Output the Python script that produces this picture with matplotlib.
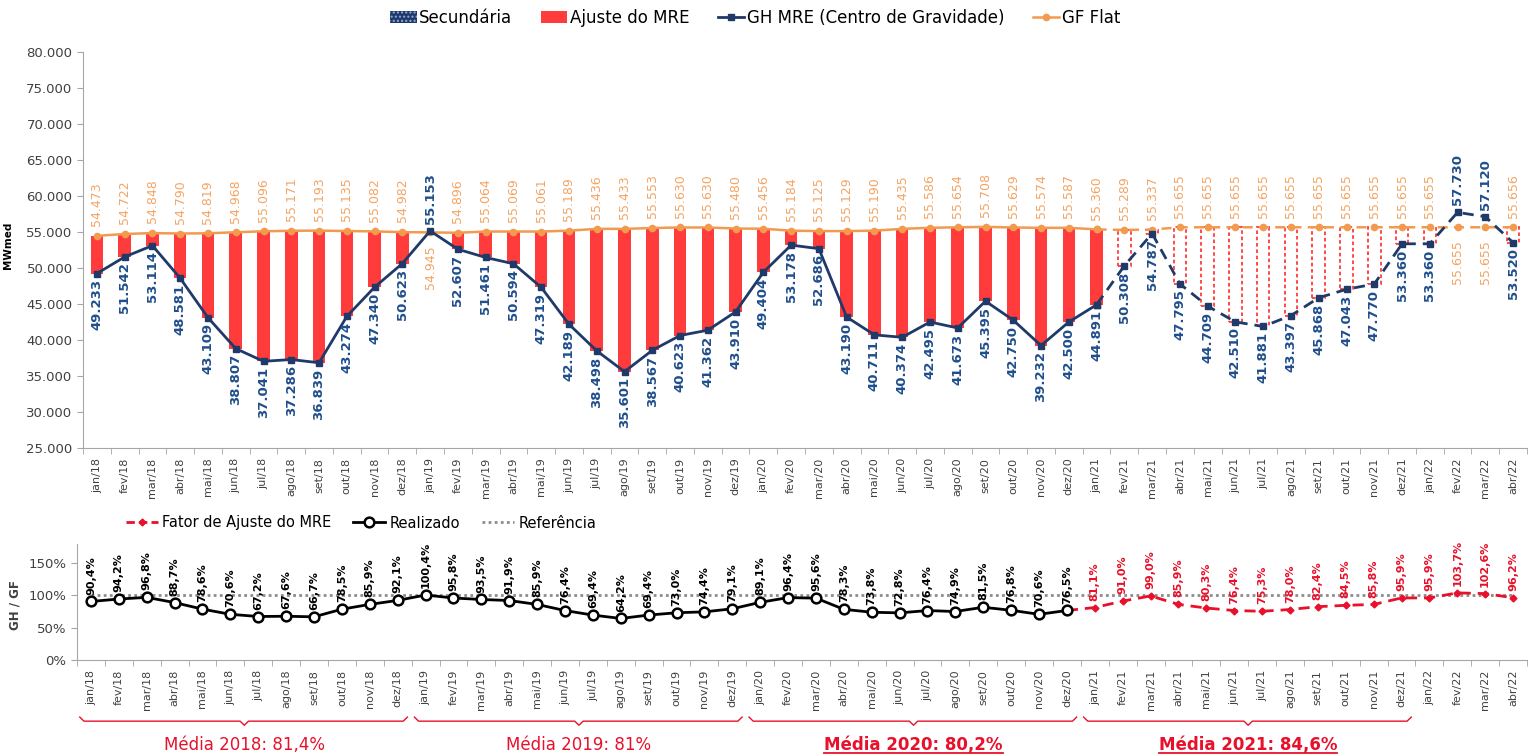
import numpy as np
import matplotlib.pyplot as plt
import matplotlib.transforms as mtransforms
from matplotlib.patches import Patch
from matplotlib.lines import Line2D

# Categories (months)
meses = ['jan', 'fev', 'mar', 'abr', 'mai', 'jun', 'jul', 'ago', 'set', 'out', 'nov', 'dez']
categorias = [f'{m}/{a}' for a in ['18', '19', '20', '21'] for m in meses] + ['jan/22', 'fev/22', 'mar/22', 'abr/22']

# GH MRE (Centro de Gravidade), MWmed
gh_mre = [49233, 51542, 53114, 48581, 43109, 38807, 37041, 37286, 36839, 43274, 47340, 50623,
          55153, 52607, 51461, 50594, 47319, 42189, 38498, 35601, 38567, 40623, 41362, 43910,
          49404, 53178, 52686, 43190, 40711, 40374, 42495, 41673, 45395, 42750, 39232, 42500,
          44891, 50308, 54787, 47795, 44709, 42510, 41881, 43397, 45868, 47043, 47770, 53360,
          53360, 57730, 57120, 53520]

# GF Flat, MWmed
gf_flat = [54473, 54722, 54848, 54790, 54819, 54968, 55096, 55171, 55193, 55135, 55082, 54982,
           54945, 54896, 55064, 55069, 55061, 55189, 55436, 55433, 55553, 55630, 55630, 55480,
           55456, 55184, 55125, 55129, 55190, 55435, 55586, 55654, 55708, 55629, 55574, 55587,
           55360, 55289, 55337, 55655, 55655, 55655, 55655, 55655, 55655, 55655, 55655, 55655,
           55655, 55655, 55655, 55656]

# GH / GF (%), realized jan/18 - dez/20
realizado = [90.4, 94.2, 96.8, 88.7, 78.6, 70.6, 67.2, 67.6, 66.7, 78.5, 85.9, 92.1,
             100.4, 95.8, 93.5, 91.9, 85.9, 76.4, 69.4, 64.2, 69.4, 73.0, 74.4, 79.1,
             89.1, 96.4, 95.6, 78.3, 73.8, 72.8, 76.4, 74.9, 81.5, 76.8, 70.6, 76.5]

# Fator de Ajuste do MRE (%), jan/21 - abr/22
fator_ajuste = [81.1, 91.0, 99.0, 85.9, 80.3, 76.4, 75.3, 78.0, 82.4, 84.5, 85.8, 95.9,
                95.9, 103.7, 102.6, 96.2]

referencia = 100.0
medias = ['Média 2018: 81,4%', 'Média 2019: 81%', 'Média 2020: 80,2%', 'Média 2021: 84,6%']

NAVY = '#1F3A68'
NAVY_TXT = '#1F4E8C'
RED = '#FF3B3B'
RED2 = '#E8102A'
ORANGE = '#F29A4E'
ORANGE_TXT = '#F4A463'
GREY = '#A6A6A6'
TICK = '#404040'


def fmt_mw(v):
    return f'{v:,.0f}'.replace(',', '.')


def fmt_pct(v):
    return f'{v:.1f}%'.replace('.', ',')


fig = plt.figure(figsize=(15.31, 7.56), dpi=100)
ax = fig.add_axes([83 / 1531, 1 - 448 / 756, 1444 / 1531, 396 / 756])
ax2 = fig.add_axes([77 / 1531, 1 - 660 / 756, 1450 / 1531, 116.5 / 756])

x = np.arange(len(categorias))
gh = np.array(gh_mre)
gf = np.array(gf_flat)
n_real = 37  # jan/18 .. jan/21 realized

# ---------------- top chart ----------------
ajuste = gf - gh
pos = ajuste > 0
solid = pos & (x < n_real)
dashed = pos & (x >= n_real)
ax.bar(x[solid], ajuste[solid], bottom=gh[solid], width=0.45, color=RED, zorder=2)
ax.bar(x[dashed], ajuste[dashed], bottom=gh[dashed], width=0.45, facecolor='white',
       edgecolor=RED, linestyle=(0, (2, 1.5)), linewidth=1.3, zorder=2)

ax.plot(x[:n_real], gf[:n_real], color=ORANGE, lw=1.8, marker='o', ms=4.5, zorder=3)
ax.plot(x[n_real - 1:], gf[n_real - 1:], color=ORANGE, lw=1.8, ls=(0, (4, 2.5)),
        marker='o', ms=4.5, zorder=3)
ax.plot(x[:n_real], gh[:n_real], color=NAVY, lw=2, marker='s', ms=4, zorder=4)
ax.plot(x[n_real - 1:], gh[n_real - 1:], color=NAVY, lw=2, ls=(0, (4, 2.5)),
        marker='s', ms=4, zorder=4)

for i in x:
    above = gh[i] > gf[i]
    ax.annotate(fmt_mw(gh[i]), (i, gh[i]), xytext=(0, 5 if above else -4),
                textcoords='offset points', rotation=90, ha='center',
                va='bottom' if above else 'top', fontsize=9.5, fontweight='bold',
                color=NAVY_TXT, zorder=6)
    ax.annotate(fmt_mw(gf[i]), (i, gf[i]), xytext=(0, -9 if above else 7),
                textcoords='offset points', rotation=90, ha='center',
                va='top' if above else 'bottom', fontsize=9, color=ORANGE_TXT, zorder=6)

ax.set_xlim(-0.5, len(x) - 0.5)
ax.set_ylim(25000, 80000)
ax.set_yticks(range(25000, 80001, 5000))
ax.set_yticklabels([fmt_mw(v) for v in range(25000, 80001, 5000)])
ax.set_xticks(x)
ax.set_xticklabels(categorias, rotation=90)
ax.set_xticks(np.arange(-0.5, len(x)), minor=True)
ax.tick_params(axis='x', which='major', length=0, pad=7, labelsize=8, labelcolor=TICK)
ax.tick_params(axis='x', which='minor', length=4, color=GREY)
ax.tick_params(axis='y', length=4, color=GREY, labelsize=9.5, labelcolor=TICK)
for s in ['top', 'right']:
    ax.spines[s].set_visible(False)
for s in ['left', 'bottom']:
    ax.spines[s].set_color(GREY)

# ---------------- bottom chart ----------------
ax2.hlines(referencia, x[0], x[-1], colors='#8C8C8C', linestyles=(0, (1, 1.2)), lw=2, zorder=1)
xr = x[:len(realizado)]
ax2.plot(xr, realizado, color='black', lw=2, marker='o', ms=7, mfc='white',
         mec='black', mew=1.8, zorder=4)
xf = x[len(realizado) - 1:]
ax2.plot(xf, [realizado[-1]] + fator_ajuste, color=RED2, lw=2, ls=(0, (4, 2.5)),
         marker='D', ms=3.5, markevery=list(range(1, len(xf))), zorder=3)

for i, v in zip(xr, realizado):
    ax2.annotate(fmt_pct(v), (i, v), xytext=(0, 5), textcoords='offset points',
                 rotation=90, ha='center', va='bottom', fontsize=8, fontweight='bold',
                 color='black', annotation_clip=False)
for i, v in zip(xf[1:], fator_ajuste):
    ax2.annotate(fmt_pct(v), (i, v), xytext=(0, 5), textcoords='offset points',
                 rotation=90, ha='center', va='bottom', fontsize=8, fontweight='bold',
                 color=RED2, annotation_clip=False)

ax2.set_xlim(-0.5, len(x) - 0.5)
ax2.set_ylim(0, 180)
ax2.set_yticks([0, 50, 100, 150])
ax2.set_yticklabels(['0%', '50%', '100%', '150%'])
ax2.set_xticks(x)
ax2.set_xticklabels(categorias, rotation=90)
ax2.set_xticks(np.arange(-0.5, len(x)), minor=True)
ax2.tick_params(axis='x', which='major', length=0, pad=7, labelsize=8, labelcolor=TICK)
ax2.tick_params(axis='x', which='minor', length=4, color=GREY)
ax2.tick_params(axis='y', length=4, color=GREY, labelsize=9.5, labelcolor=TICK)
for s in ['top', 'right']:
    ax2.spines[s].set_visible(False)
for s in ['left', 'bottom']:
    ax2.spines[s].set_color(GREY)

# year brackets and averages
trans = mtransforms.blended_transform_factory(ax2.transData, ax2.transAxes)
media_texts = []
for k, txt in enumerate(medias):
    x0, x1, xm = 12 * k - 0.4, 12 * k + 11.35, 12 * k + 5.5
    bx = [x0, x0 + 0.15, xm - 0.15, xm, xm + 0.15, x1 - 0.15, x1]
    by = [-0.49, -0.525, -0.525, -0.56, -0.525, -0.525, -0.49]
    ax2.plot(bx, by, color=RED2, lw=1, transform=trans, clip_on=False)
    t = ax2.text(xm, -0.73, txt, transform=trans, ha='center', va='center',
                 fontsize=12, color=RED2, fontweight='bold' if k >= 2 else 'normal')
    media_texts.append((k, t))

# legends
top_handles = [Patch(facecolor=NAVY, edgecolor='#8FAADC', hatch='....', lw=0),
               Patch(facecolor=RED),
               Line2D([], [], color=NAVY, lw=2, marker='s', ms=4),
               Line2D([], [], color=ORANGE, lw=1.8, marker='o', ms=4.5)]
top_labels = ['Secundária', 'Ajuste do MRE', 'GH MRE (Centro de Gravidade)', 'GF Flat']
fig.legend(top_handles, top_labels, loc='center', bbox_to_anchor=(755 / 1531, 1 - 18 / 756),
           ncol=4, frameon=False, fontsize=12, handlelength=1.6, handletextpad=0.15,
           columnspacing=1.7)

bot_handles = [Line2D([], [], color=RED2, lw=2, ls=(0, (3, 1.5)), marker='D', ms=3.5),
               Line2D([], [], color='black', lw=2, marker='o', ms=7, mfc='white', mew=1.8),
               Line2D([], [], color='#8C8C8C', lw=2, ls=(0, (1, 1.2)))]
bot_labels = ['Fator de Ajuste do MRE', 'Realizado', 'Referência']
fig.legend(bot_handles, bot_labels, loc='center', bbox_to_anchor=(361 / 1531, 1 - 523 / 756),
           ncol=3, frameon=False, fontsize=10.5, handlelength=2.2, handletextpad=0.3,
           columnspacing=1.5)

fig.text(8 / 1531, 1 - 245 / 756, 'MWmed', rotation=90, ha='center', va='center',
         fontsize=7.5, fontweight='bold', color='black')
fig.text(15 / 1531, 1 - 605 / 756, 'GH / GF', rotation=90, ha='center', va='center',
         fontsize=8.5, fontweight='bold', color=TICK)

# underline the bold averages
fig.canvas.draw()
inv = fig.transFigure.inverted()
for k, t in media_texts:
    if k >= 2:
        bb = t.get_window_extent()
        (fx0, fy0), (fx1, _) = inv.transform([(bb.x0, bb.y0 + 1), (bb.x1, bb.y0 + 1)])
        fig.add_artist(Line2D([fx0, fx1], [fy0, fy0], transform=fig.transFigure,
                              color=RED2, lw=1.3))

fig.savefig('out.png', dpi=100)
